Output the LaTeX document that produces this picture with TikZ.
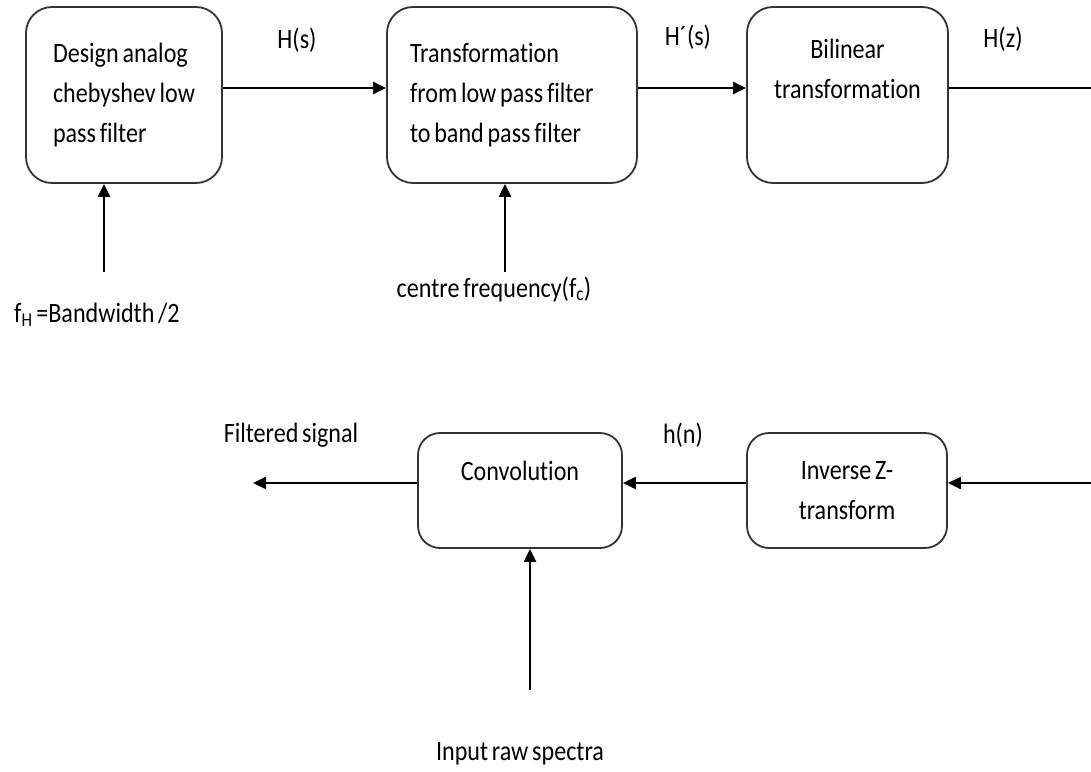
\documentclass[tikz,border=0pt]{standalone}
\usepackage{fontspec}
\setmainfont{Carlito}[FakeStretch=0.86, WordSpace=0.7, Ligatures=NoCommon]
\usetikzlibrary{arrows.meta}
\tikzset{blk/.style={draw=black!80, line width=1.8pt, rounded corners=26pt, inner sep=0pt, minimum height=176pt, font=\fontsize{28}{40}\selectfont},
  lbl/.style={inner sep=0pt, anchor=base, font=\fontsize{28}{40}\selectfont},
  flow/.style={black, line width=2.2pt, -{Triangle[length=13pt,width=12pt]}}}

\begin{document}
\begin{tikzpicture}[x=1pt,y=-1pt]
  \useasboundingbox (0,0) rectangle (1091,771);
  % top row
  \node[blk, minimum width=196pt, align=left] (design) at (124,95) {Design analog\\chebyshev low\\pass filter};
  \node[blk, minimum width=250pt, text width=204pt, align=flush left] (lp2bp) at (512,95) {Transformation\\from low pass filter\\to band pass filter};
  \node[blk, minimum width=201pt, align=center] (bilin) at (847.5,95) {Bilinear\\transformation\\\strut};
  % bottom row
  \node[blk, minimum width=200pt, minimum height=115pt, rounded corners=22pt, align=center] (invz) at (847,490.5) {Inverse Z-\\transform};
  \node[blk, minimum width=204pt, minimum height=115pt, rounded corners=22pt, align=center] (conv) at (520,490.5) {Convolution\\\mbox{}};
  % labels
  \node[lbl] (hs) at (297,48) {H(s)};
  \node[lbl] (hds) at (688,45) {H´(s)};
  \node[lbl] (hz) at (1003,47) {H(z)};
  \node[lbl] (hn) at (683,443) {h(n)};
  \node[lbl] (fout) at (291,442) {Filtered signal};
  \node[lbl] (fH) at (97,322) {f\textsubscript{H} =Bandwidth /2};
  \node[lbl] (fc) at (494,297) {centre frequency(f\textsubscript{c})};
  \node[lbl] (raw) at (520,760) {Input raw spectra};
  \coordinate (hzend) at (1091,88);
  \coordinate (hzin) at (1091,483);
  \coordinate (fouttip) at (253,483);
  \coordinate (fHtail) at (104,272);
  \coordinate (fctail) at (505,272);
  \coordinate (rawtail) at (530,690);
  % connectors
  \draw[flow] ([yshift=7pt]design.east) -- ([yshift=7pt]lp2bp.west);
  \draw[flow] ([yshift=7pt]lp2bp.east) -- ([yshift=7pt]bilin.west);
  \draw[flow,-] ([yshift=7pt]bilin.east) -- (hzend);
  \draw[flow] (hzin) -- ([yshift=7.5pt]invz.east);
  \draw[flow] ([yshift=7.5pt]invz.west) -- ([yshift=7.5pt]conv.east);
  \draw[flow] ([yshift=7.5pt]conv.west) -- (fouttip);
  \draw[flow] (fHtail) -- (fHtail |- design.south);
  \draw[flow] (fctail) -- (fctail |- lp2bp.south);
  \draw[flow] (rawtail) -- (rawtail |- conv.south);
\end{tikzpicture}
\end{document}
